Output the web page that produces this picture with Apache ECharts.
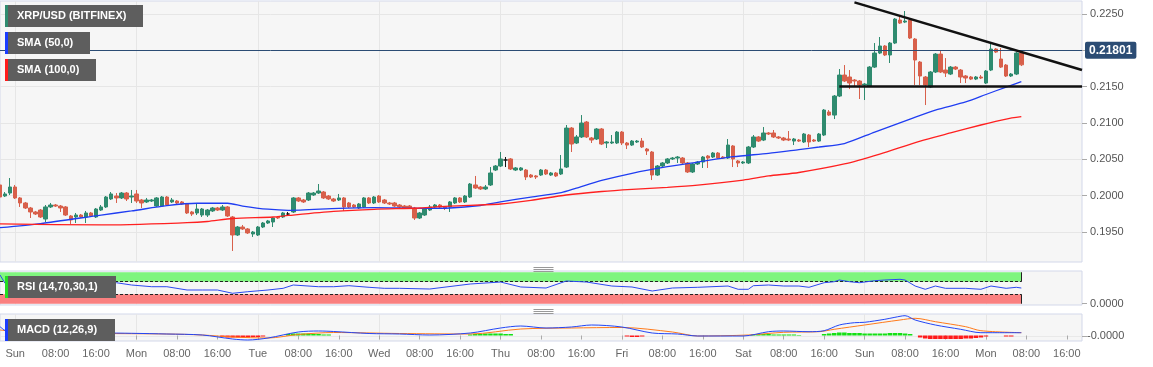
<!DOCTYPE html>
<html><head><meta charset="utf-8">
<script src="https://cdn.jsdelivr.net/npm/echarts@6/dist/echarts.min.js"></script>
<style>html,body{margin:0;padding:0;background:#fff}#c{width:1153px;height:367px}</style>
</head><body><div id="c"></div>
<script>
// ---------- axis / category definition ----------
const dayNames = ['Sat','Sun','Mon','Tue','Wed','Thu','Fri','Sat','Sun','Mon'];
const startHour = 21;          // first hourly slot: Sat 21:00
const slotCount = 215;         // hourly slots up to Mon 19:00
const priceTicks = [0.195, 0.200, 0.205, 0.210, 0.215, 0.220, 0.225];
const rsiTicks = [0];
const macdTicks = [-0.000005];
const lastPrice = 0.21801;

// ---------- XRP/USD hourly candles ----------
const opens = [0.20146,0.19994,0.20035,0.20118,0.19967,0.19898,0.19829,0.19774,0.19801,0.19677,
0.19843,0.19870,0.19856,0.19843,0.19719,0.19705,0.19732,0.19705,0.19760,0.19705,
0.19801,0.19843,0.19953,0.19994,0.19967,0.20035,0.19980,0.20022,0.19939,0.19912,
0.19925,0.19856,0.19856,0.19980,0.19912,0.19925,0.19912,0.19884,0.19774,0.19760,
0.19732,0.19732,0.19788,0.19829,0.19801,0.19843,0.19705,0.19457,0.19567,0.19540,
0.19471,0.19457,0.19567,0.19622,0.19636,0.19705,0.19705,0.19746,0.19774,0.19967,
0.19939,0.19939,0.20008,0.20035,0.20049,0.19994,0.19953,0.19939,0.19967,0.19898,
0.19870,0.19829,0.19843,0.19967,0.19898,0.19994,0.19939,0.19898,0.19898,0.19870,
0.19856,0.19856,0.19829,0.19691,0.19732,0.19801,0.19843,0.19870,0.19843,0.19843,
0.19898,0.19967,0.19912,0.19980,0.20146,0.20118,0.20091,0.20146,0.20352,0.20407,
0.20490,0.20504,0.20352,0.20352,0.20352,0.20283,0.20270,0.20283,0.20352,0.20283,
0.20311,0.20297,0.20393,0.20930,0.20724,0.20807,0.21013,0.20793,0.20779,0.20917,
0.20724,0.20724,0.20724,0.20875,0.20724,0.20696,0.20738,0.20751,0.20641,0.20600,
0.20283,0.20407,0.20449,0.20504,0.20517,0.20517,0.20449,0.20325,0.20435,0.20462,
0.20545,0.20531,0.20586,0.20531,0.20517,0.20683,0.20476,0.20449,0.20449,0.20669,
0.20807,0.20765,0.20862,0.20862,0.20807,0.20793,0.20779,0.20751,0.20765,0.20738,
0.20834,0.20765,0.20751,0.20834,0.21151,0.21109,0.21371,0.21660,0.21633,0.21591,
0.21578,0.21523,0.21509,0.21770,0.21963,0.22060,0.21936,0.22101,0.22418,0.22390,
0.22418,0.22156,0.21839,0.21633,0.21495,0.21702,0.21949,0.21729,0.21674,0.21770,
0.21729,0.21647,0.21633,0.21605,0.21633,0.21550,0.21729,0.22018,0.21881,0.21798,
0.21647,0.21674,0.21963];
const closes = [0.19980,0.20022,0.20118,0.19967,0.19898,0.19829,0.19774,0.19746,0.19705,0.19843,
0.19870,0.19856,0.19829,0.19732,0.19664,0.19732,0.19705,0.19760,0.19719,0.19815,
0.19843,0.19980,0.20022,0.19967,0.20035,0.19953,0.19994,0.19925,0.19898,0.19939,
0.19939,0.19967,0.19980,0.19870,0.19939,0.19898,0.19884,0.19760,0.19746,0.19815,
0.19815,0.19801,0.19829,0.19801,0.19843,0.19719,0.19457,0.19567,0.19540,0.19485,
0.19498,0.19567,0.19622,0.19650,0.19691,0.19691,0.19760,0.19746,0.19967,0.19925,
0.19912,0.20035,0.20035,0.20063,0.19967,0.19953,0.19925,0.19967,0.19843,0.19843,
0.19843,0.19884,0.19967,0.19898,0.19980,0.19912,0.19898,0.19884,0.19856,0.19843,
0.19829,0.19829,0.19691,0.19760,0.19815,0.19843,0.19870,0.19843,0.19829,0.19912,
0.19967,0.19912,0.19994,0.20159,0.20104,0.20091,0.20118,0.20311,0.20407,0.20504,
0.20490,0.20366,0.20380,0.20380,0.20256,0.20256,0.20256,0.20352,0.20297,0.20311,
0.20270,0.20366,0.20930,0.20710,0.20807,0.20999,0.20807,0.20765,0.20917,0.20710,
0.20738,0.20738,0.20875,0.20724,0.20696,0.20751,0.20751,0.20669,0.20614,0.20283,
0.20407,0.20449,0.20504,0.20517,0.20531,0.20449,0.20325,0.20435,0.20462,0.20531,
0.20517,0.20586,0.20517,0.20517,0.20696,0.20504,0.20449,0.20462,0.20669,0.20807,
0.20751,0.20862,0.20848,0.20807,0.20793,0.20765,0.20765,0.20779,0.20751,0.20848,
0.20738,0.20751,0.20848,0.21178,0.21109,0.21371,0.21660,0.21578,0.21550,0.21578,
0.21523,0.21536,0.21770,0.21963,0.22060,0.21936,0.22101,0.22431,0.22376,0.22404,
0.22170,0.21867,0.21647,0.21523,0.21702,0.21949,0.21702,0.21688,0.21770,0.21743,
0.21633,0.21619,0.21605,0.21633,0.21619,0.21715,0.22018,0.21977,0.21770,0.21647,
0.21674,0.21963,0.21801];
const lows = [0.19967,0.19980,0.20008,0.19953,0.19843,0.19815,0.19691,0.19732,0.19691,0.19636,
0.19829,0.19843,0.19774,0.19719,0.19609,0.19622,0.19691,0.19622,0.19705,0.19691,
0.19788,0.19829,0.19939,0.19898,0.19953,0.19925,0.19898,0.19898,0.19829,0.19898,
0.19912,0.19843,0.19843,0.19856,0.19898,0.19884,0.19870,0.19746,0.19719,0.19732,
0.19705,0.19705,0.19774,0.19788,0.19788,0.19705,0.19237,0.19443,0.19526,0.19471,
0.19430,0.19443,0.19553,0.19609,0.19567,0.19677,0.19691,0.19719,0.19760,0.19912,
0.19898,0.19925,0.19994,0.20022,0.19953,0.19939,0.19912,0.19925,0.19788,0.19829,
0.19829,0.19815,0.19829,0.19884,0.19884,0.19898,0.19884,0.19870,0.19843,0.19829,
0.19815,0.19815,0.19664,0.19677,0.19719,0.19788,0.19829,0.19815,0.19801,0.19774,
0.19884,0.19898,0.19898,0.19967,0.20091,0.20077,0.20077,0.20132,0.20338,0.20393,
0.20393,0.20352,0.20338,0.20338,0.20214,0.20242,0.20228,0.20270,0.20283,0.20270,
0.20256,0.20283,0.20380,0.20600,0.20710,0.20793,0.20793,0.20724,0.20765,0.20696,
0.20655,0.20710,0.20710,0.20696,0.20641,0.20683,0.20724,0.20655,0.20559,0.20214,
0.20270,0.20393,0.20435,0.20490,0.20449,0.20435,0.20311,0.20311,0.20421,0.20380,
0.20380,0.20517,0.20504,0.20504,0.20504,0.20393,0.20393,0.20435,0.20435,0.20655,
0.20738,0.20751,0.20834,0.20793,0.20779,0.20751,0.20751,0.20696,0.20738,0.20724,
0.20669,0.20738,0.20738,0.20820,0.21096,0.21054,0.21357,0.21564,0.21467,0.21495,
0.21330,0.21316,0.21495,0.21757,0.21949,0.21922,0.21826,0.22087,0.22363,0.22376,
0.22156,0.21523,0.21523,0.21247,0.21481,0.21688,0.21688,0.21633,0.21660,0.21729,
0.21550,0.21550,0.21591,0.21591,0.21605,0.21536,0.21715,0.21963,0.21757,0.21633,
0.21633,0.21660,0.21784];
const highs = [0.20173,0.20049,0.20242,0.20146,0.19980,0.19912,0.19843,0.19788,0.19815,0.19870,
0.19898,0.19884,0.19870,0.19856,0.19732,0.19760,0.19746,0.19788,0.19774,0.19829,
0.19870,0.19994,0.20049,0.20035,0.20049,0.20049,0.20077,0.20077,0.19953,0.19967,
0.19953,0.19980,0.19994,0.19994,0.19967,0.19939,0.19925,0.19898,0.19788,0.19884,
0.19829,0.19815,0.19843,0.19843,0.19870,0.19856,0.19719,0.19581,0.19595,0.19553,
0.19512,0.19581,0.19636,0.19664,0.19705,0.19719,0.19774,0.19774,0.19980,0.19980,
0.19953,0.20049,0.20049,0.20159,0.20063,0.20008,0.19967,0.20022,0.19980,0.19912,
0.19884,0.19898,0.19980,0.19980,0.19994,0.20008,0.19953,0.19912,0.19912,0.19884,
0.19870,0.19870,0.19843,0.19774,0.19829,0.19870,0.19884,0.19884,0.19856,0.19925,
0.19980,0.19980,0.20008,0.20173,0.20270,0.20132,0.20146,0.20393,0.20421,0.20600,
0.20531,0.20517,0.20393,0.20393,0.20366,0.20297,0.20283,0.20366,0.20366,0.20325,
0.20325,0.20559,0.20972,0.20944,0.20834,0.21109,0.21027,0.20807,0.20930,0.20930,
0.20751,0.20834,0.20889,0.20889,0.20738,0.20765,0.20765,0.20793,0.20655,0.20614,
0.20421,0.20462,0.20517,0.20531,0.20545,0.20531,0.20462,0.20449,0.20476,0.20545,
0.20559,0.20600,0.20600,0.20545,0.20779,0.20696,0.20490,0.20476,0.20683,0.20834,
0.20820,0.20944,0.20875,0.20903,0.20820,0.20807,0.20889,0.20793,0.20779,0.20862,
0.20848,0.20779,0.20862,0.21192,0.21178,0.21385,0.21743,0.21798,0.21729,0.21605,
0.21591,0.21550,0.21784,0.22101,0.22184,0.22073,0.22115,0.22445,0.22486,0.22542,
0.22431,0.22170,0.21853,0.21647,0.21715,0.21963,0.22005,0.21894,0.21784,0.21784,
0.21743,0.21660,0.21647,0.21647,0.21660,0.21729,0.22101,0.22032,0.22032,0.21812,
0.21688,0.21977,0.21977];

// ---------- SMA lines (read at sample hours: [slot, value]) ----------
const sma50 = [[0,0.19558],[8,0.19614],[20,0.19732],[26,0.19788],[33,0.19861],[39,0.19894],[45,0.19894],
[48,0.19856],[53,0.19812],[57,0.19797],[67,0.19825],[74,0.19833],[83,0.19825],[89,0.19829],[95,0.19863],
[99,0.19912],[105,0.19980],[111,0.20042],[114,0.20104],[119,0.20208],[125,0.20307],[132,0.20398],
[138,0.20462],[145,0.20535],[152,0.20582],[158,0.20634],[162,0.20669],[167,0.20717],[173,0.20875],
[180,0.21054],[185,0.21178],[191,0.21289],[195,0.21392],[199,0.21495],[202,0.21568]];
const sma100 = [[0,0.19609],[20,0.19595],[37,0.19626],[41,0.19643],[46,0.19684],[54,0.19705],[57,0.19726],
[66,0.19781],[74,0.19811],[83,0.19829],[89,0.19856],[99,0.19884],[105,0.19935],[112,0.20008],[119,0.20056],
[125,0.20086],[132,0.20114],[138,0.20145],[147,0.20214],[152,0.20270],[158,0.20318],[167,0.20435],
[174,0.20572],[182,0.20751],[188,0.20862],[194,0.20972],[199,0.21054],[202,0.21086]];

// ---------- RSI (14) samples ----------
const rsi = [[0,91.3],[1,64.9],[7,54.1],[13,64.9],[20,62.7],[23,66.8],[26,59.5],[30,54.1],[33,54.1],[37,43.6],
[40,43.6],[43,43.6],[46,33.2],[49,38.2],[53,43.6],[56,49],[58,59.5],[63,54.1],[66,54.1],[69,57.3],[73,52.2],
[76,49],[79,49],[85,46.8],[93,62.7],[99,69],[103,53.2],[108,50],[112,72.2],[116,69],[121,56.3],[125,53.2],
[129,40.5],[133,50],[138,52.2],[144,56.3],[146,45.9],[148,45.9],[149,57.3],[152,59.5],[155,56.3],[158,56.3],
[160,52.2],[163,66.8],[165,70],[166,75.4],[168,70],[170,66.8],[173,73.2],[175,75.4],[178,77.6],[179,75.4],
[181,56.3],[183,45.9],[185,56.3],[187,49],[191,49],[194,45.9],[196,56.3],[199,49],[201,52.2],[202,50]];
const rsiUpper = 70, rsiLower = 30;

// ---------- MACD (12,26,9) samples ----------
const macdLine = [[0,0.000176],[2,0.00005],[7,0.00003],[13,0.00004],[20,0.00005],[26,0.000044],[33,0.00003],
[40,0.00001],[46,-0.00007],[49,-0.00009],[53,-0.00005],[59,0.00007],[63,0.00009],[66,0.00008],[73,0.00004],
[79,0.00003],[85,0.00001],[93,0.00005],[99,0.00015],[103,0.00019],[108,0.00015],[113,0.00017],[117,0.00021],
[123,0.00017],[129,0.00005],[134,0.00003],[138,-0.00001],[147,-0.00001],[152,0.000076],[155,0.00009],
[160,0.000076],[163,0.000096],[166,0.00021],[169,0.000256],[171,0.000264],[175,0.000324],[177,0.000364],
[179,0.000396],[181,0.00031],[185,0.00021],[190,0.000124],[194,0.000056],[196,0.000056],[202,0.000056]];
const macdSignal = [[0,0.00011],[7,0.00005],[20,0.00004],[33,0.00003],[40,0.00001],[46,-0.00003],[53,-0.00005],
[59,0.00002],[66,0.00006],[79,0.00004],[93,0.00003],[103,0.00013],[113,0.00015],[123,0.00016],[133,0.00007],
[138,-0.00001],[148,0.00001],[155,0.000064],[162,0.000076],[165,0.000124],[171,0.00021],[178,0.00031],
[181,0.000344],[185,0.000276],[191,0.000176],[194,0.000096],[202,0.000056]];
const macdHist = [[5,-0.00002],[6,-0.00002],[7,-0.00002],[8,-0.00002],[9,-0.00002],[10,-0.00002],[11,-0.00002],[12,-0.00001],
[44,-0.00003],[45,-0.00004],[46,-0.00004],[47,-0.00004],[48,-0.00004],[49,-0.00004],[50,-0.00003],[51,-0.00003],[52,-0.00002],
[57,0.00003],[58,0.00004],[59,0.00004],[60,0.00004],[61,0.00004],[62,0.00003],[63,0.00003],[64,0.00002],[65,0.00002],
[93,0.00002],[94,0.00003],[95,0.00003],[96,0.00004],[97,0.00004],[98,0.00004],[99,0.00004],[100,0.00003],[101,0.00003],
[124,-0.00002],[125,-0.00003],[126,-0.00003],[127,-0.00002],
[149,0.00002],[150,0.00003],[151,0.00003],[152,0.00003],[153,0.00002],[154,0.00002],[155,0.00002],[156,0.00002],[157,0.00002],[158,0.00001],
[163,0.00003],[164,0.00004],[165,0.00005],[166,0.00006],[167,0.00006],[168,0.00005],[169,0.00005],[170,0.00005],[171,0.00004],
[172,0.00004],[173,0.00004],[174,0.00004],[175,0.00004],[176,0.00005],[177,0.00005],[178,0.00005],[179,0.00004],[180,0.00003],
[182,-0.00004],[183,-0.00006],[184,-0.00007],[185,-0.00007],[186,-0.00007],[187,-0.00007],[188,-0.00007],[189,-0.00007],
[190,-0.00007],[191,-0.00006],[192,-0.00006],[193,-0.00005],[194,-0.00004],[195,-0.00002],[199,-0.00002],[200,-0.00002]];

// ---------- drawn annotations ----------
const trendLine = [[169,0.22661],[214,0.21729]];
const supportLine = [[166,0.2150],[214,0.2150]];

// ---------- build ----------
function slotHour(i){ return (startHour + i) % 24; }
function slotDay(i){ return Math.floor((startHour + i) / 24); }
const categories = [];
for (let i = 0; i < slotCount; i++) categories.push('s' + i);
function slotLabel(i){
  const h = slotHour(i);
  if (h === 0) return dayNames[slotDay(i)];
  return (h < 10 ? '0' + h : '' + h) + ':00';
}
const candleData = opens.map((o, i) => [o, closes[i], lows[i], highs[i]]);

const FONT = 'Liberation Sans, Arial, sans-serif';
const gridBorder = '#d3d8ea';
const splitCol = '#e6e6e6';

function xAxisFor(gi, showLabels){
  return {
    type: 'category', gridIndex: gi, data: categories, boundaryGap: false,
    axisLine: {show: false},
    axisTick: {show: showLabels, length: 4, interval: (idx) => slotHour(idx) % 8 === 0, lineStyle: {color: '#aaa'}},
    axisLabel: {show: showLabels, interval: (idx) => slotHour(idx) % 8 === 0,
      formatter: (v, idx) => slotLabel(idx), color: '#666', fontSize: 11, fontFamily: FONT, margin: 7},
    splitLine: {show: true, interval: (idx) => slotHour(idx) === 0, lineStyle: {color: splitCol}}
  };
}

const option = {
  animation: false,
  backgroundColor: '#ffffff',
  textStyle: {fontFamily: FONT},
  grid: [
    {left: 0, right: 71, top: 1, height: 261, show: true, backgroundColor: '#f6f6f6', borderColor: gridBorder, borderWidth: 1},
    {left: 0, right: 71, top: 271, height: 34, show: true, backgroundColor: '#f6f6f6', borderColor: gridBorder, borderWidth: 1},
    {left: 0, right: 71, top: 314, height: 27, show: true, backgroundColor: '#f6f6f6', borderColor: gridBorder, borderWidth: 1}
  ],
  xAxis: [xAxisFor(0, false), xAxisFor(1, false), xAxisFor(2, true)],
  yAxis: [
    {type: 'value', gridIndex: 0, position: 'right', min: 0.19085, max: 0.2268,
      axisLine: {show: false},
      axisTick: {show: true, length: 5, customValues: priceTicks, lineStyle: {color: '#aaa'}},
      axisLabel: {customValues: priceTicks, formatter: v => v.toFixed(4), color: '#555', fontSize: 11, margin: 8},
      splitLine: {show: true, lineStyle: {color: splitCol}}},
    {type: 'value', gridIndex: 1, position: 'right', min: -4, max: 104,
      axisLine: {show: false},
      axisTick: {show: true, length: 5, customValues: rsiTicks, lineStyle: {color: '#aaa'}},
      axisLabel: {customValues: rsiTicks, formatter: v => v.toFixed(4), color: '#555', fontSize: 11, margin: 8},
      splitLine: {show: false}},
    {type: 'value', gridIndex: 2, position: 'right', min: -0.00011, max: 0.00043,
      axisLine: {show: false},
      axisTick: {show: true, length: 5, customValues: macdTicks, lineStyle: {color: '#aaa'}},
      axisLabel: {customValues: macdTicks, formatter: v => v.toFixed(4), color: '#555', fontSize: 11, margin: 5},
      splitLine: {show: true, lineStyle: {color: '#e9e9e9'}}}
  ],
  series: [
    {type: 'candlestick', xAxisIndex: 0, yAxisIndex: 0, data: candleData, barWidth: 4,
      itemStyle: {color: '#2f8b6f', color0: '#d8604b', borderColor: '#2f8b6f', borderColor0: '#d8604b', borderColorDoji: '#111', borderWidth: 1},
      markLine: {silent: true, symbol: ['none', 'none'], animation: false,
        data: [
          {yAxis: lastPrice, lineStyle: {color: '#2b4c74', width: 1, type: 'solid'},
            label: {show: true, position: 'end', formatter: lastPrice.toFixed(5), color: '#fff', fontWeight: 'bold', fontSize: 12,
              backgroundColor: '#2b4c74', padding: [3, 4, 2, 4], borderRadius: 2, distance: 3}},
          [{coord: trendLine[0], lineStyle: {color: '#111', width: 2.5, type: 'solid'}, label: {show: false}}, {coord: trendLine[1]}],
          [{coord: supportLine[0], lineStyle: {color: '#111', width: 2.5, type: 'solid'}, label: {show: false}}, {coord: supportLine[1]}]
        ]}},
    {type: 'line', xAxisIndex: 0, yAxisIndex: 0, data: sma50, showSymbol: false, smooth: 0.25,
      lineStyle: {color: '#1f3df2', width: 1.3}, z: 3},
    {type: 'line', xAxisIndex: 0, yAxisIndex: 0, data: sma100, showSymbol: false, smooth: 0.25,
      lineStyle: {color: '#ff2020', width: 1.3}, z: 3},
    {type: 'line', xAxisIndex: 1, yAxisIndex: 1, data: rsi, showSymbol: false,
      lineStyle: {color: '#2a48f0', width: 1}, z: 5,
      markArea: {silent: true, data: [
        [{coord: [0, rsiUpper], itemStyle: {color: '#7ff57f'}}, {coord: [202, 100]}],
        [{coord: [0, 0], itemStyle: {color: '#fa8080'}}, {coord: [202, rsiLower]}]
      ]},
      markLine: {silent: true, symbol: ['none', 'none'], label: {show: false}, data: [
        [{coord: [0, rsiUpper], lineStyle: {color: '#222', width: 1, type: [3, 2]}}, {coord: [202, rsiUpper]}],
        [{coord: [0, rsiLower], lineStyle: {color: '#222', width: 1, type: [3, 2]}}, {coord: [202, rsiLower]}],
        [{coord: [202, rsiUpper], lineStyle: {color: '#222', width: 1, type: 'solid'}}, {coord: [202, 100]}],
        [{coord: [202, 0], lineStyle: {color: '#222', width: 1, type: 'solid'}}, {coord: [202, rsiLower]}]
      ]}},
    {type: 'bar', xAxisIndex: 2, yAxisIndex: 2, data: macdHist, barWidth: '90%',
      itemStyle: {color: p => p.value[1] >= 0 ? '#14e014' : '#ff1a1a'}},
    {type: 'line', xAxisIndex: 2, yAxisIndex: 2, data: macdLine, showSymbol: false, smooth: 0.3,
      lineStyle: {color: '#2346f5', width: 1}, z: 5},
    {type: 'line', xAxisIndex: 2, yAxisIndex: 2, data: macdSignal, showSymbol: false, smooth: 0.3,
      lineStyle: {color: '#ff7a1a', width: 1}, z: 4}
  ],
  graphic: [
    // legend tags
    {type: 'rect', left: 5, top: 5, shape: {width: 3, height: 22}, style: {fill: '#2f8b6f'}, z: 100},
    {type: 'rect', left: 8, top: 5, shape: {width: 135, height: 22}, style: {fill: '#5e5e5e'}, z: 100},
    {type: 'text', left: 17, top: 10, style: {text: 'XRP/USD (BITFINEX)', fill: '#fff', font: 'bold 11px ' + FONT}, z: 101},
    {type: 'rect', left: 5, top: 32, shape: {width: 3, height: 22}, style: {fill: '#1a3cff'}, z: 100},
    {type: 'rect', left: 8, top: 32, shape: {width: 82, height: 22}, style: {fill: '#5e5e5e'}, z: 100},
    {type: 'text', left: 17, top: 37, style: {text: 'SMA (50,0)', fill: '#fff', font: 'bold 11px ' + FONT}, z: 101},
    {type: 'rect', left: 5, top: 59, shape: {width: 3, height: 22}, style: {fill: '#ff1a1a'}, z: 100},
    {type: 'rect', left: 8, top: 59, shape: {width: 88, height: 22}, style: {fill: '#5e5e5e'}, z: 100},
    {type: 'text', left: 17, top: 64, style: {text: 'SMA (100,0)', fill: '#fff', font: 'bold 11px ' + FONT}, z: 101},
    {type: 'rect', left: 5, top: 276, shape: {width: 3, height: 22}, style: {fill: '#22dd22'}, z: 100},
    {type: 'rect', left: 8, top: 276, shape: {width: 108, height: 22}, style: {fill: '#5e5e5e'}, z: 100},
    {type: 'text', left: 17, top: 281, style: {text: 'RSI (14,70,30,1)', fill: '#fff', font: 'bold 11px ' + FONT}, z: 101},
    {type: 'rect', left: 5, top: 319, shape: {width: 3, height: 22}, style: {fill: '#1a3cff'}, z: 100},
    {type: 'rect', left: 8, top: 319, shape: {width: 107, height: 22}, style: {fill: '#5e5e5e'}, z: 100},
    {type: 'text', left: 17, top: 324, style: {text: 'MACD (12,26,9)', fill: '#fff', font: 'bold 11px ' + FONT}, z: 101},
    // pane resize handles
    {type: 'group', left: 531, top: 265, children: [
      {type: 'line', shape: {x1: 0, y1: 0.5, x2: 20, y2: 0.5}, style: {stroke: '#999', lineWidth: 1}},
      {type: 'line', shape: {x1: 0, y1: 2.5, x2: 20, y2: 2.5}, style: {stroke: '#999', lineWidth: 1}},
      {type: 'line', shape: {x1: 0, y1: 4.5, x2: 20, y2: 4.5}, style: {stroke: '#999', lineWidth: 1}}]},
    {type: 'group', left: 531, top: 307, children: [
      {type: 'line', shape: {x1: 0, y1: 0.5, x2: 20, y2: 0.5}, style: {stroke: '#999', lineWidth: 1}},
      {type: 'line', shape: {x1: 0, y1: 2.5, x2: 20, y2: 2.5}, style: {stroke: '#999', lineWidth: 1}},
      {type: 'line', shape: {x1: 0, y1: 4.5, x2: 20, y2: 4.5}, style: {stroke: '#999', lineWidth: 1}}]}
  ]
};
const chart = echarts.init(document.getElementById('c'), null, {renderer: 'canvas'});
chart.setOption(option);
</script></body></html>
